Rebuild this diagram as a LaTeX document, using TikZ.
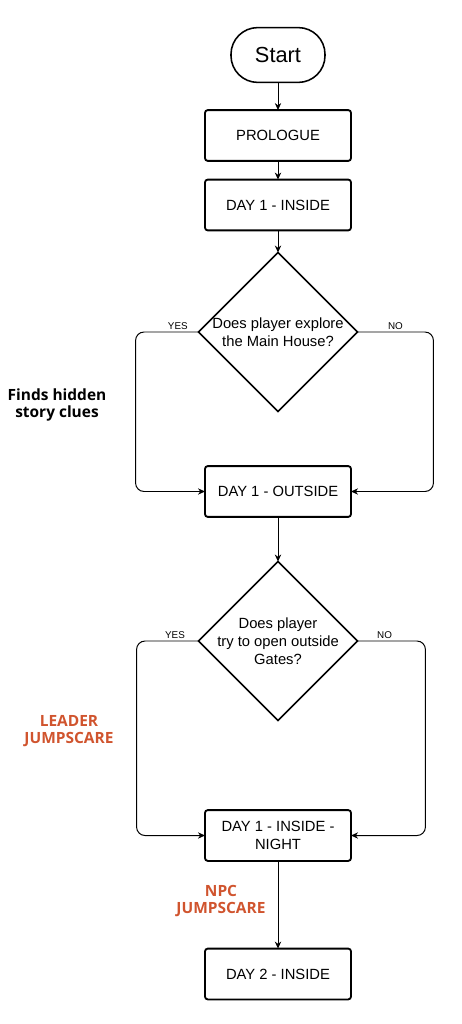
\documentclass[tikz,border=0pt]{standalone}
\usepackage{fontspec}
\setmainfont{Liberation Sans}
\newfontfamily\notefont{Open Sans}
\usetikzlibrary{shapes.geometric,arrows.meta}
\definecolor{notered}{RGB}{208,84,46}
\begin{document}
\begin{tikzpicture}[x=0.025cm, y=-0.025cm,
    box/.style={draw, line width=1.3pt, rounded corners=2pt, minimum width=3.65cm, minimum height=1.27cm, inner sep=0pt, outer sep=0pt, align=center, font=\fontsize{10.5}{13}\selectfont},
    startbox/.style={draw, line width=1.1pt, rounded corners=19pt, minimum width=2.35cm, minimum height=1.37cm, inner sep=0pt, outer sep=0pt, font=\fontsize{15.5}{18}\selectfont},
    question/.style={draw, diamond, line width=1.1pt, minimum size=3.97cm, inner sep=0pt, outer sep=0pt},
    qtext/.style={align=center, font=\fontsize{10.5}{13}\selectfont},
    flow/.style={line width=0.7pt, -{Stealth[length=5pt, width=4.5pt]}},
    side/.style={flow, rounded corners=6pt},
    yesno/.style={font=\fontsize{7}{8}\selectfont, inner sep=1.5pt},
    note/.style={align=center, font=\notefont\bfseries\fontsize{11}{12.5}\selectfont}]
    \useasboundingbox (0, 0) rectangle (461, 1024);
    \node[startbox] (start) at (278, 55) {Start};
    \node[box] (prologue) at (278, 135.5) {PROLOGUE};
    \node[box] (dayinside) at (278, 205) {DAY 1 - INSIDE};
    \node[question] (house) at (278, 332) {};
    \node[qtext] (housetext) at (house.center) {Does player explore\\the Main House?};
    \node[box] (dayoutside) at (278, 491.5) {DAY 1 - OUTSIDE};
    \node[question] (gates) at (278, 641) {};
    \node[qtext] (gatestext) at (gates.center) {Does player\\try to open outside\\Gates?};
    \node[box] (night) at (278, 835.5) {DAY 1 - INSIDE -\\NIGHT};
    \node[box] (daytwo) at (278, 974) {DAY 2 - INSIDE};
    \node[note] (clues) at (57, 405) {Finds hidden\\story clues};
    \node[note, text=notered] (leader) at (69, 731) {LEADER\\JUMPSCARE};
    \node[note, text=notered] (npc) at (221, 901) {NPC\\JUMPSCARE};
    \draw[flow] (start) -- (prologue);
    \draw[flow] (prologue) -- (dayinside);
    \draw[flow] (dayinside) -- (house);
    \draw[side] (house.west) -- node[yesno, above, pos=0.33] {YES} ++(-63, 0) |- (dayoutside.west);
    \draw[side] (house.east) -- node[yesno, above, pos=0.5] {NO} ++(76, 0) |- (dayoutside.east);
    \draw[flow] (dayoutside) -- (gates);
    \draw[side] (gates.west) -- node[yesno, above, pos=0.38] {YES} ++(-62, 0) |- (night.west);
    \draw[side] (gates.east) -- node[yesno, above, pos=0.4] {NO} ++(68, 0) |- (night.east);
    \draw[flow] (night) -- (daytwo);
\end{tikzpicture}
\end{document}
